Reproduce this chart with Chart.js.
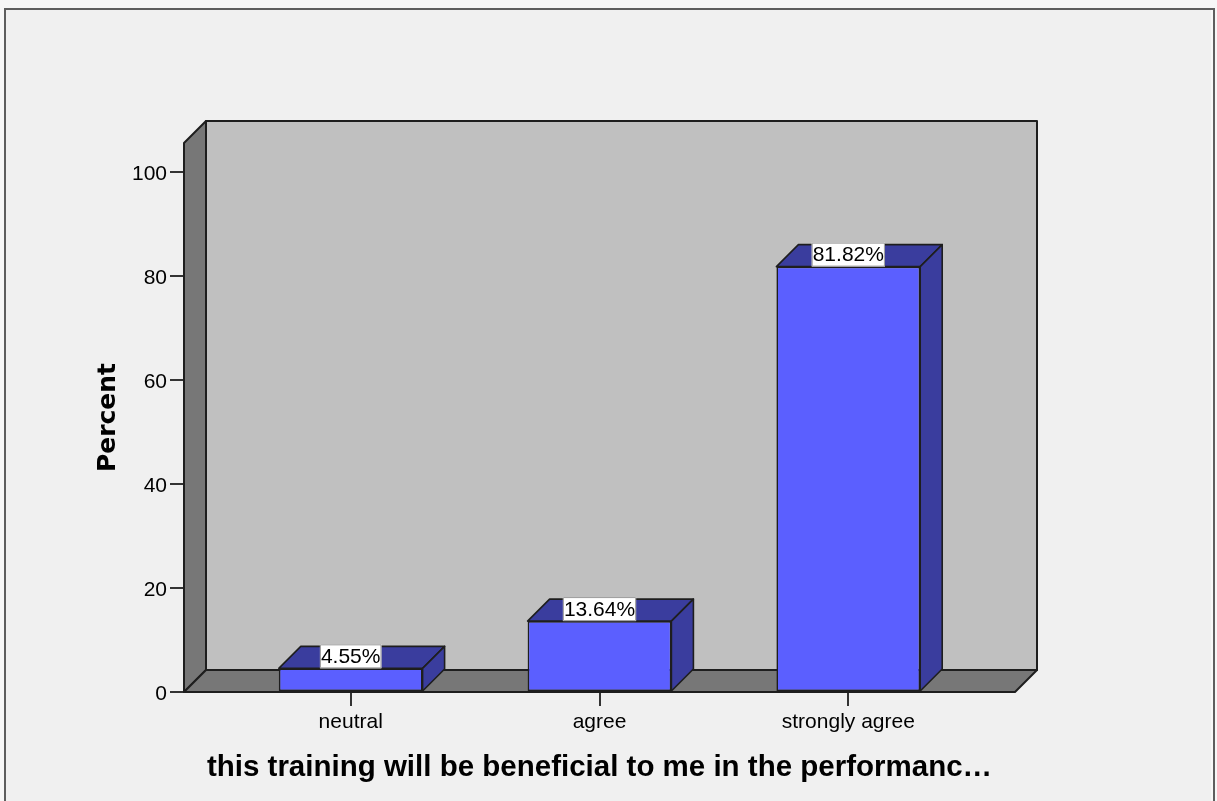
<!DOCTYPE html>
<html>
<head>
<meta charset="utf-8">
<script src="https://cdn.jsdelivr.net/npm/chart.js@4.4.1/dist/chart.umd.min.js"></script>
<style>
  html, body { margin: 0; padding: 0; background: #f7f7f7; }
  canvas { display: block; }
</style>
</head>
<body>
<canvas id="c" width="1217" height="801"></canvas>
<script>
// ---- data ----
const categories = ['neutral', 'agree', 'strongly agree'];
const percents = [4.55, 13.64, 81.82];
const valueLabels = ['4.55%', '13.64%', '81.82%'];
const yTicks = [0, 20, 40, 60, 80, 100];
const xTitle = 'this training will be beneficial to me in the performanc\u2026';
const yTitle = 'Percent';

// ---- style ----
const DX = 22, DY = 22;
const FRONT = '#5b5fff';
const SIDE = '#3a3d9e';
const BACKWALL = '#c0c0c0';
const SIDEWALL = '#777777';
const EDGE = '#1e1e1e';
const PAD = { left: 70, right: 202, top: 143, bottom: 10 };

const framePlugin = {
  id: 'frame',
  beforeDraw(chart) {
    const ctx = chart.ctx;
    ctx.save();
    ctx.fillStyle = '#f7f7f7';
    ctx.fillRect(0, 0, chart.width, chart.height);
    ctx.fillStyle = '#f0f0f0';
    ctx.fillRect(6, 9, chart.width - 12, chart.height);
    ctx.strokeStyle = '#5e5e5e';
    ctx.lineWidth = 2;
    ctx.beginPath();
    ctx.moveTo(5, chart.height + 2);
    ctx.lineTo(5, 9);
    ctx.lineTo(chart.width - 3, 9);
    ctx.lineTo(chart.width - 3, chart.height + 2);
    ctx.stroke();
    ctx.restore();
  }
};

function poly(ctx, pts, fill, stroke, lw) {
  ctx.beginPath();
  ctx.moveTo(pts[0][0], pts[0][1]);
  for (let i = 1; i < pts.length; i++) ctx.lineTo(pts[i][0], pts[i][1]);
  ctx.closePath();
  ctx.fillStyle = fill;
  ctx.fill();
  ctx.strokeStyle = stroke;
  ctx.lineWidth = lw;
  ctx.lineJoin = 'round';
  ctx.stroke();
}

const wallsPlugin = {
  id: 'walls',
  beforeDatasetsDraw(chart) {
    const { left, right, top, bottom } = chart.chartArea;
    const ctx = chart.ctx;
    ctx.save();
    // back wall
    poly(ctx, [[left + DX, top - DY], [right + DX, top - DY], [right + DX, bottom - DY], [left + DX, bottom - DY]], BACKWALL, EDGE, 2);
    // left wall
    poly(ctx, [[left, top], [left + DX, top - DY], [left + DX, bottom - DY], [left, bottom]], SIDEWALL, EDGE, 2);
    // floor
    poly(ctx, [[left, bottom], [left + DX, bottom - DY], [right + DX, bottom - DY], [right, bottom]], SIDEWALL, EDGE, 2);
    ctx.restore();
  }
};

const bar3dPlugin = {
  id: 'bar3d',
  afterDatasetsDraw(chart) {
    const ctx = chart.ctx;
    const meta = chart.getDatasetMeta(0);
    ctx.save();
    meta.data.forEach((bar) => {
      const p = bar.getProps(['x', 'y', 'base', 'width'], true);
      const l = p.x - p.width / 2, r = p.x + p.width / 2;
      // top face
      poly(ctx, [[l, p.y], [l + DX, p.y - DY], [r + DX, p.y - DY], [r, p.y]], SIDE, EDGE, 1.6);
      // right face
      poly(ctx, [[r, p.y], [r + DX, p.y - DY], [r + DX, p.base - DY], [r, p.base]], SIDE, EDGE, 1.6);
    });
    // value labels
    ctx.font = '21px "Liberation Sans", Arial, sans-serif';
    ctx.textAlign = 'center';
    ctx.textBaseline = 'middle';
    meta.data.forEach((bar, i) => {
      const p = bar.getProps(['x', 'y'], true);
      const txt = valueLabels[i];
      const w = ctx.measureText(txt).width + 2;
      const h = 24;
      ctx.fillStyle = '#ffffff';
      ctx.fillRect(p.x - w / 2, p.y - h, w, h);
      ctx.strokeStyle = '#9a9a9a';
      ctx.lineWidth = 1;
      ctx.strokeRect(p.x - w / 2 + 0.5, p.y - h + 0.5, w - 1, h - 1);
      ctx.fillStyle = '#000000';
      ctx.fillText(txt, p.x, p.y - h / 2 + 1);
    });
    ctx.restore();
  }
};

const tickFont = { family: '"Liberation Sans", Arial, sans-serif', size: 21 };

new Chart(document.getElementById('c'), {
  type: 'bar',
  data: {
    datasets: [{
      data: categories.map((c, i) => ({ x: i, y: percents[i] })),
      backgroundColor: FRONT,
      borderColor: EDGE,
      borderWidth: 1.6,
      borderSkipped: false,
      barPercentage: 0.578,
      categoryPercentage: 1
    }]
  },
  options: {
    responsive: false,
    animation: false,
    events: [],
    devicePixelRatio: 1,
    layout: { padding: PAD },
    plugins: { legend: { display: false }, tooltip: { enabled: false } },
    scales: {
      x: {
        type: 'linear',
        min: -0.67,
        max: 2.67,
        offset: false,
        afterBuildTicks: (s) => { s.ticks = categories.map((c, i) => ({ value: i })); },
        afterFit: (s) => { s.height = 801 - PAD.bottom - 692; },
        ticks: {
          callback: (v) => categories[v],
          font: tickFont, color: '#000', padding: 4,
          maxRotation: 0, autoSkip: false
        },
        grid: { display: true, offset: false, drawOnChartArea: false, drawTicks: true, tickLength: 14, color: '#333', lineWidth: 2 },
        border: { display: false },
        title: {
          display: true, text: xTitle, color: '#000',
          font: { family: '"Liberation Sans", Arial, sans-serif', size: 29.5, weight: 'bold' },
          padding: { top: 0, bottom: 5 }
        }
      },
      y: {
        min: 0,
        max: 105.6,
        afterBuildTicks: (s) => { s.ticks = yTicks.map((v) => ({ value: v })); },
        afterFit: (s) => { s.width = 184 - PAD.left; },
        ticks: { font: tickFont, color: '#000', padding: 3, labelOffset: 2.5 },
        grid: { display: true, drawOnChartArea: false, drawTicks: true, tickLength: 14, color: '#333', lineWidth: 2 },
        border: { display: false },
        title: {
          display: true, text: yTitle, color: '#000',
          font: { family: '"DejaVu Sans", sans-serif', size: 25, weight: 'bold' },
          padding: { top: 23.5, bottom: 0 }
        }
      }
    }
  },
  plugins: [framePlugin, wallsPlugin, bar3dPlugin]
});
</script>
</body>
</html>
